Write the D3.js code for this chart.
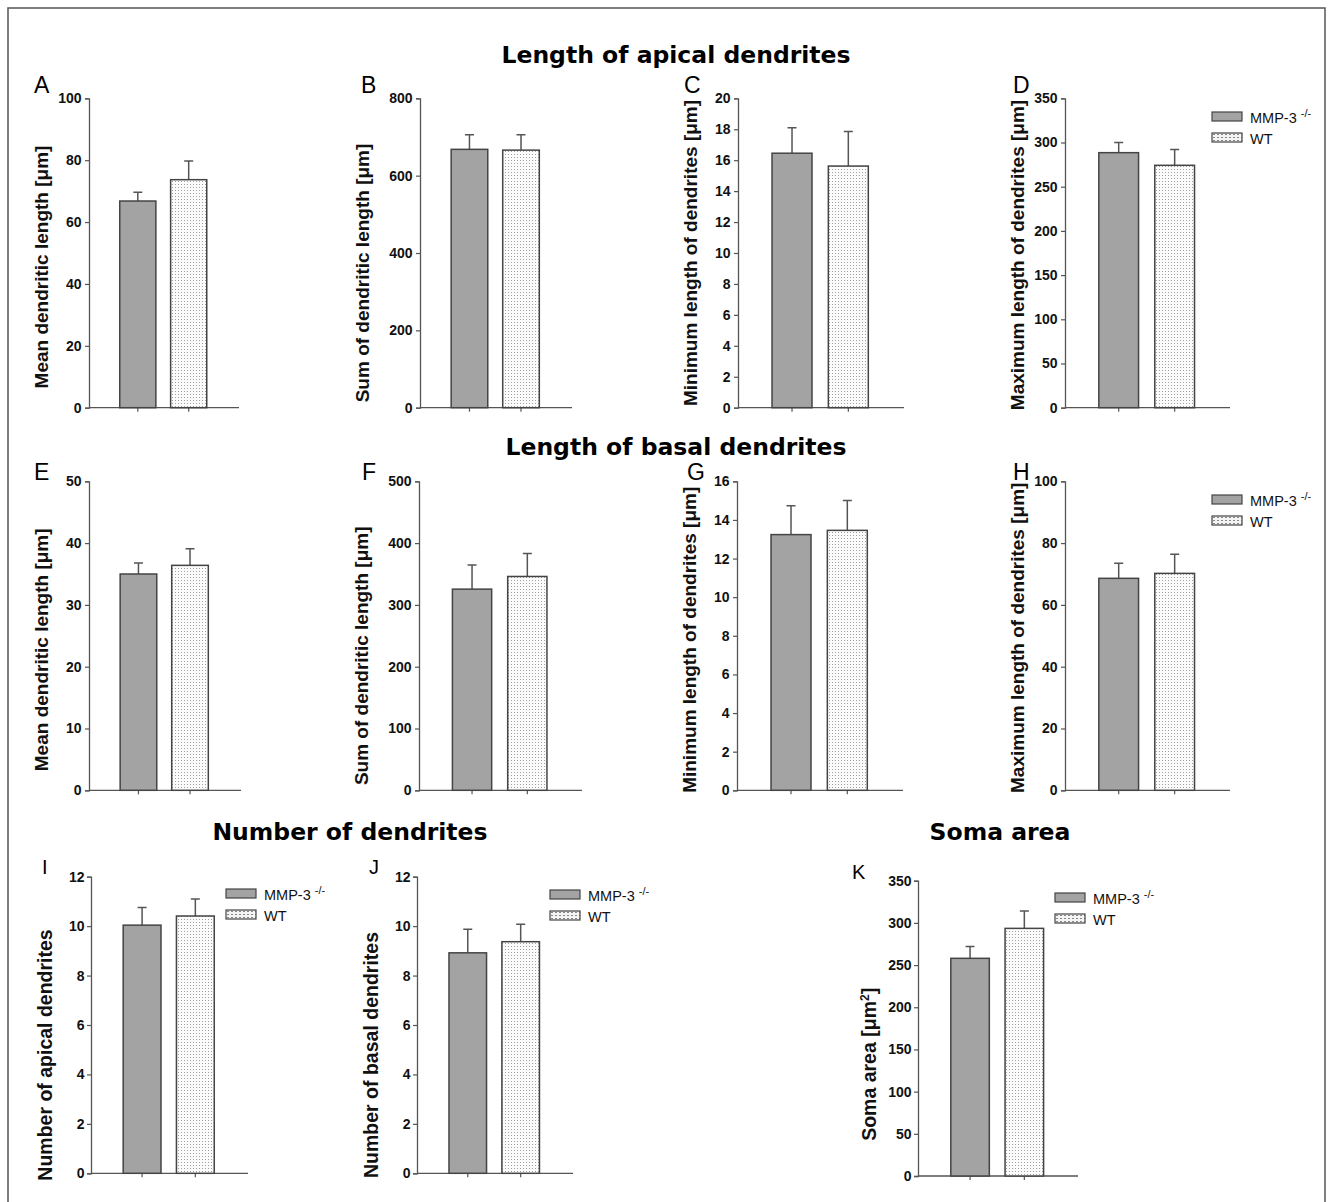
<!DOCTYPE html>
<html>
<head>
<meta charset="utf-8">
<script src="https://cdn.jsdelivr.net/npm/d3@7"></script>
<style>
  body { margin: 0; background: #fff; }
  svg { display: block; }
</style>
</head>
<body>
<div id="chart"></div>
<script>
// panel data
const panelIds = ["A", "B", "C", "D", "E", "F", "G", "H", "I", "J", "K"];
const groups = ["MMP-3", "WT"];
const yMax = [100, 800, 20, 350, 50, 500, 16, 100, 12, 12, 350];
const yStep = [20, 200, 2, 50, 10, 100, 2, 20, 2, 2, 50];
const yLabels = [
  "Mean dendritic length [μm]",
  "Sum of dendritic length [μm]",
  "Minimum length of dendrites [μm]",
  "Maximum length of dendrites [μm]",
  "Mean dendritic length [μm]",
  "Sum of dendritic length [μm]",
  "Minimum length of dendrites [μm]",
  "Maximum length of dendrites [μm]",
  "Number of apical dendrites",
  "Number of basal dendrites",
  "Soma area [μm"
];
const mmpMean = [66.8, 668, 16.45, 288.5, 35.0, 325.5, 13.24, 68.6, 10.04, 8.92, 258];
const mmpSem  = [2.8, 38, 1.65, 11.5, 1.8, 39, 1.5, 4.9, 0.71, 0.95, 14];
const wtMean  = [73.7, 666, 15.62, 274.2, 36.4, 346, 13.46, 70.2, 10.41, 9.37, 293.5];
const wtSem   = [6.0, 40, 2.23, 17.8, 2.7, 37, 1.54, 6.2, 0.69, 0.71, 20.5];
const sectionTitles = ["Length of apical dendrites", "Length of basal dendrites", "Number of dendrites", "Soma area"];
const legendPanels = ["D", "H", "I", "J", "K"];

// layout of each panel: axis origin x, axis length, top/bottom y,
// letter position, y-label offset (dx from axis, dy from axis middle)
let layout = {
  A: {x: 89,  w: 150, top: 98.3, bottom: 407.7, lx: 34,  ly: 93,  lab: 19, ldx: 41, ldy: 14},
  B: {x: 420, w: 152, top: 98.3, bottom: 407.7, lx: 361, ly: 93,  lab: 19, ldx: 51, ldy: 20},
  C: {x: 738, w: 166, top: 98.3, bottom: 407.7, lx: 684, ly: 93,  lab: 19, ldx: 41, ldy: 0},
  D: {x: 1065, w: 165, top: 98.3, bottom: 407.7, lx: 1013, ly: 93, lab: 19, ldx: 41, ldy: 2},
  E: {x: 89,  w: 152, top: 481.3, bottom: 790.3, lx: 34, ly: 480, lab: 19, ldx: 41, ldy: 14},
  F: {x: 419, w: 163, top: 481.3, bottom: 790.3, lx: 362, ly: 480, lab: 19, ldx: 51, ldy: 20},
  G: {x: 737, w: 166, top: 481.3, bottom: 790.3, lx: 687, ly: 480, lab: 19, ldx: 41, ldy: 4},
  H: {x: 1065, w: 165, top: 481.3, bottom: 790.3, lx: 1013, ly: 480, lab: 19, ldx: 41, ldy: 2},
  I: {x: 91,  w: 157, top: 876.7, bottom: 1173.3, lx: 42, ly: 874, lab: 19.5, ldx: 39, ldy: 30},
  J: {x: 417, w: 156, top: 876.7, bottom: 1173.3, lx: 369, ly: 874, lab: 19.5, ldx: 39, ldy: 30},
  K: {x: 918, w: 160, top: 880.7, bottom: 1176, lx: 852, ly: 879, lab: 19.5, ldx: 42, ldy: 36}
};
let legendPos = {
  D: [1212, 112], H: [1212, 495], I: [226, 889], J: [550, 890], K: [1055, 893]
};
let titlePos = [[676, 63], [676, 455], [350, 840], [1000, 840]];

let svgWidth = 1333;
let svgHeight = 1202;

let svg = d3.select("#chart")
  .append("svg")
  .attr("width", svgWidth)
  .attr("height", svgHeight);

// dotted fill for WT bars
let defs = svg.append("defs");
let pat = defs.append("pattern")
  .attr("id", "dots")
  .attr("patternUnits", "userSpaceOnUse")
  .attr("width", 3)
  .attr("height", 3);
pat.append("rect").attr("width", 3).attr("height", 3).attr("fill", "#fbfbfb");
pat.append("rect").attr("x", 1).attr("y", 1).attr("width", 1).attr("height", 1).attr("fill", "#a0a0a0");

let pat2 = defs.append("pattern")
  .attr("id", "dotsLegend")
  .attr("patternUnits", "userSpaceOnUse")
  .attr("width", 4)
  .attr("height", 3);
pat2.append("rect").attr("width", 4).attr("height", 3).attr("fill", "#f4f4f4");
pat2.append("rect").attr("x", 1).attr("y", 1).attr("width", 2).attr("height", 1).attr("fill", "#888");

// frame around the whole figure
svg.append("rect")
  .attr("x", 8).attr("y", 8)
  .attr("width", 1317).attr("height", 1210)
  .attr("fill", "none")
  .attr("stroke", "#555")
  .attr("stroke-width", 1.5);

// section titles
sectionTitles.forEach((t, i) => {
  svg.append("text")
    .attr("x", titlePos[i][0])
    .attr("y", titlePos[i][1])
    .attr("text-anchor", "middle")
    .attr("font-family", "DejaVu Sans")
    .attr("font-weight", "bold")
    .attr("font-size", 23.5)
    .text(t);
});

const axisColor = "#555";
const sans = "Liberation Sans, Arial, sans-serif";

function drawPanel(i) {
  let id = panelIds[i];
  let L = layout[id];
  let g = svg.append("g");

  let y = d3.scaleLinear()
    .domain([0, yMax[i]])
    .range([L.bottom, L.top]);

  let x = d3.scaleBand()
    .domain(groups)
    .range([L.x + L.w * 0.205, L.x + L.w * 0.785])
    .paddingInner(0.29);

  // y axis
  let leftAxis = d3.axisLeft(y)
    .tickValues(d3.range(0, yMax[i] + yStep[i] / 2, yStep[i]))
    .tickSize(4)
    .tickPadding(i >= 8 ? 2.5 : 3.5)
    .tickFormat(d3.format("d"));

  let ya = g.append("g")
    .attr("transform", `translate(${L.x},0)`)
    .call(leftAxis);
  ya.attr("font-size", null).attr("font-family", null);
  ya.select(".domain").attr("stroke", axisColor).attr("stroke-width", 1.3);
  ya.selectAll(".tick line").attr("stroke", axisColor).attr("stroke-width", 1.2);
  ya.selectAll(".tick text")
    .style("font-family", sans)
    .style("font-weight", "bold")
    .style("font-size", "14px")
    .attr("fill", "#111");

  // x axis (no labels)
  let bottomAxis = d3.axisBottom(x).tickSize(4).tickFormat("");
  let xa = g.append("g")
    .attr("transform", `translate(0,${L.bottom})`)
    .call(bottomAxis);
  xa.select(".domain")
    .attr("d", `M${L.x},0H${L.x + L.w}`)
    .attr("stroke", axisColor).attr("stroke-width", 1.3);
  xa.selectAll(".tick line").attr("stroke", axisColor).attr("stroke-width", 1.2);

  let means = [mmpMean[i], wtMean[i]];
  let sems = [mmpSem[i], wtSem[i]];
  let rows = groups.map((k, j) => ({key: k, mean: means[j], sem: sems[j]}));

  // error bars (drawn first so the bar covers the lower half)
  let cap = 9;
  g.append("g").selectAll("path")
    .data(rows)
    .enter()
    .append("path")
    .attr("d", d => {
      let cx = x(d.key) + x.bandwidth() / 2;
      return `M${cx},${y(d.mean)}V${y(d.mean + d.sem)}M${cx - cap / 2},${y(d.mean + d.sem)}H${cx + cap / 2}`;
    })
    .attr("stroke", "#555")
    .attr("stroke-width", 1.5)
    .attr("fill", "none");

  g.append("g").selectAll("rect")
    .data(rows)
    .enter()
    .append("rect")
    .attr("x", d => x(d.key))
    .attr("y", d => y(d.mean))
    .attr("width", x.bandwidth())
    .attr("height", d => y(0) - y(d.mean))
    .attr("fill", d => d.key === "WT" ? "url(#dots)" : "#a3a3a3")
    .attr("stroke", "#444")
    .attr("stroke-width", 1.5);

  // y label
  let lab = g.append("text")
    .attr("transform", `translate(${L.x - L.ldx},${(L.top + L.bottom) / 2 + L.ldy}) rotate(-90)`)
    .attr("text-anchor", "middle")
    .attr("font-family", sans)
    .attr("font-weight", "bold")
    .attr("font-size", L.lab)
    .attr("fill", "#111")
    .text(yLabels[i]);
  if (id === "K") {
    lab.append("tspan").attr("baseline-shift", "super").attr("font-size", 12).text("2");
    lab.append("tspan").text("]");
  }

  // panel letter
  svg.append("text")
    .attr("x", L.lx)
    .attr("y", L.ly)
    .attr("font-family", sans)
    .attr("font-size", i >= 8 ? 20 : 23)
    .text(id);

  // legend
  if (legendPanels.includes(id)) {
    let p = legendPos[id];
    let lg = svg.append("g").attr("transform", `translate(${p[0]},${p[1]})`);
    groups.forEach((k, j) => {
      lg.append("rect")
        .attr("x", 0).attr("y", j * 21)
        .attr("width", 30).attr("height", 9)
        .attr("fill", k === "WT" ? "url(#dotsLegend)" : "#a3a3a3")
        .attr("stroke", "#444")
        .attr("stroke-width", 1.2);
      let t = lg.append("text")
        .attr("x", 38).attr("y", j * 21 + 10.5)
        .attr("font-family", sans)
        .attr("font-size", 14.5)
        .attr("fill", "#111")
        .text(k);
      if (k === "MMP-3") {
        t.append("tspan").attr("dx", 4).attr("dy", -6).attr("font-size", 11).text("-/-");
      }
    });
  }
}

panelIds.forEach((id, i) => drawPanel(i));
</script>
</body>
</html>
